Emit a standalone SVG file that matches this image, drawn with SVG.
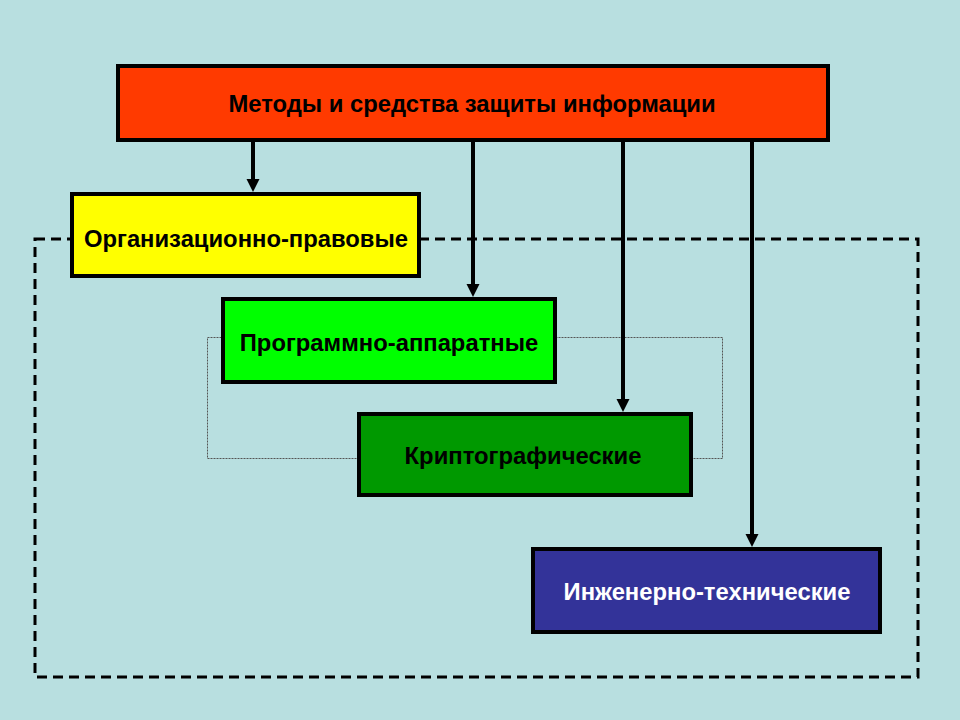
<svg xmlns="http://www.w3.org/2000/svg" width="960" height="720" viewBox="0 0 960 720">
<style>
.box{stroke:#000;stroke-width:4}
.lbl{font-family:"Liberation Sans",Arial,sans-serif;font-weight:bold;font-size:23.8px;text-anchor:middle}
.conn{stroke:#000;stroke-width:4;fill:none}
</style>
<rect width="960" height="720" fill="#B8DFE0"/>
<g id="frames">
<rect x="35" y="239" width="883" height="438" fill="none" stroke="#000" stroke-width="3" stroke-dasharray="10,6"/>
<rect x="207.5" y="337.5" width="515" height="121" fill="none" stroke="#555" stroke-width="1" stroke-dasharray="2,1"/>
</g>
<g id="connectors">
<line class="conn" x1="253" y1="140" x2="253" y2="180"/>
<path d="M246.5,179 L259.5,179 L253,192 Z"/>
<line class="conn" x1="473" y1="140" x2="473" y2="285"/>
<path d="M466.5,284 L479.5,284 L473,297 Z"/>
<line class="conn" x1="623" y1="140" x2="623" y2="400"/>
<path d="M616.5,399 L629.5,399 L623,412 Z"/>
<line class="conn" x1="752" y1="140" x2="752" y2="535"/>
<path d="M745.5,534 L758.5,534 L752,547 Z"/>
</g>
<g id="top">
<rect class="box" x="118" y="66" width="710" height="74" fill="#FF3A00"/>
<text class="lbl" x="472" y="112">Методы и средства защиты информации</text>
</g>
<g id="org">
<rect class="box" x="72" y="194" width="347" height="82" fill="#FFFF00"/>
<text class="lbl" x="246" y="247">Организационно-правовые</text>
</g>
<g id="prog">
<rect class="box" x="223" y="299" width="332" height="83" fill="#00FF00"/>
<text class="lbl" x="389" y="351">Программно-аппаратные</text>
</g>
<g id="crypto">
<rect class="box" x="359" y="414" width="332" height="81" fill="#009900"/>
<text class="lbl" x="523" y="464">Криптографические</text>
</g>
<g id="eng">
<rect class="box" x="533" y="549" width="347" height="83" fill="#333399"/>
<text class="lbl" x="707" y="600" fill="#fff">Инженерно-технические</text>
</g>
</svg>
